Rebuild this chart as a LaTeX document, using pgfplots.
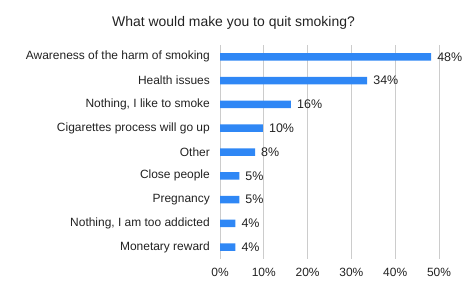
\documentclass[border=0pt]{standalone}
\usepackage{pgfplots}
\pgfplotsset{compat=1.18}
\usepackage{pgfplotstable}
\usepackage{fontspec}
\setmainfont{Liberation Sans}
\definecolor{barblue}{HTML}{2F87F5}
\definecolor{txt}{HTML}{222222}
\definecolor{gridc}{HTML}{CCCCCC}
\pgfplotstableread{
pos value label
0 48.2 48
1 33.6 34
2 16.2 16
3 9.8 10
4 8.0 8
5 4.4 5
6 4.4 5
7 3.5 4
8 3.5 4
}\datatable
\begin{document}
\begin{tikzpicture}
\useasboundingbox (0bp,0bp) rectangle (467bp,-291bp);
\node[font=\fontsize{14}{16}\selectfont, text=txt] at (233.5bp,-23bp) {What would make you to quit smoking?};
\begin{axis}[
  at={(220bp,-259bp)}, anchor=south west,
  scale only axis, width=219bp, height=214bp,
  xbar, bar width=7.5bp,
  xmin=0, xmax=50,
  ymin=-0.5, ymax=8.5, y dir=reverse,
  xtick={0,10,20,30,40,50},
  xticklabel={\pgfmathprintnumber{\tick}\%},
  ytick={0,1,2,3,4,5,6,7,8},
  yticklabels={Awareness of the harm of smoking, Health issues, {Nothing, I like to smoke}, Cigarettes process will go up, Other, Close people, Pregnancy, {Nothing, I am too addicted}, Monetary reward},
  /pgf/number format/assume math mode=true,
  axis line style={draw=none},
  major tick length=0,
  xmajorgrids, major grid style={gridc, line width=0.8bp},
  xticklabel style={font=\fontsize{12}{14}\selectfont, text=txt, anchor=north, inner sep=0pt, yshift=-9bp},
  yticklabel style={font=\fontsize{12}{14}\selectfont, text=txt, anchor=east, inner sep=0pt, xshift=-10bp},
  nodes near coords={\pgfmathprintnumber{\pgfplotspointmeta}\%},
  point meta=explicit,
  nodes near coords style={font=\fontsize{12.5}{14}\selectfont, text=txt, anchor=west, inner sep=0pt, xshift=6bp},
  clip=false,
]
\addplot[fill=barblue, draw=none] table[x=value, y=pos, meta=label] {\datatable};
\end{axis}
\end{tikzpicture}
\end{document}
